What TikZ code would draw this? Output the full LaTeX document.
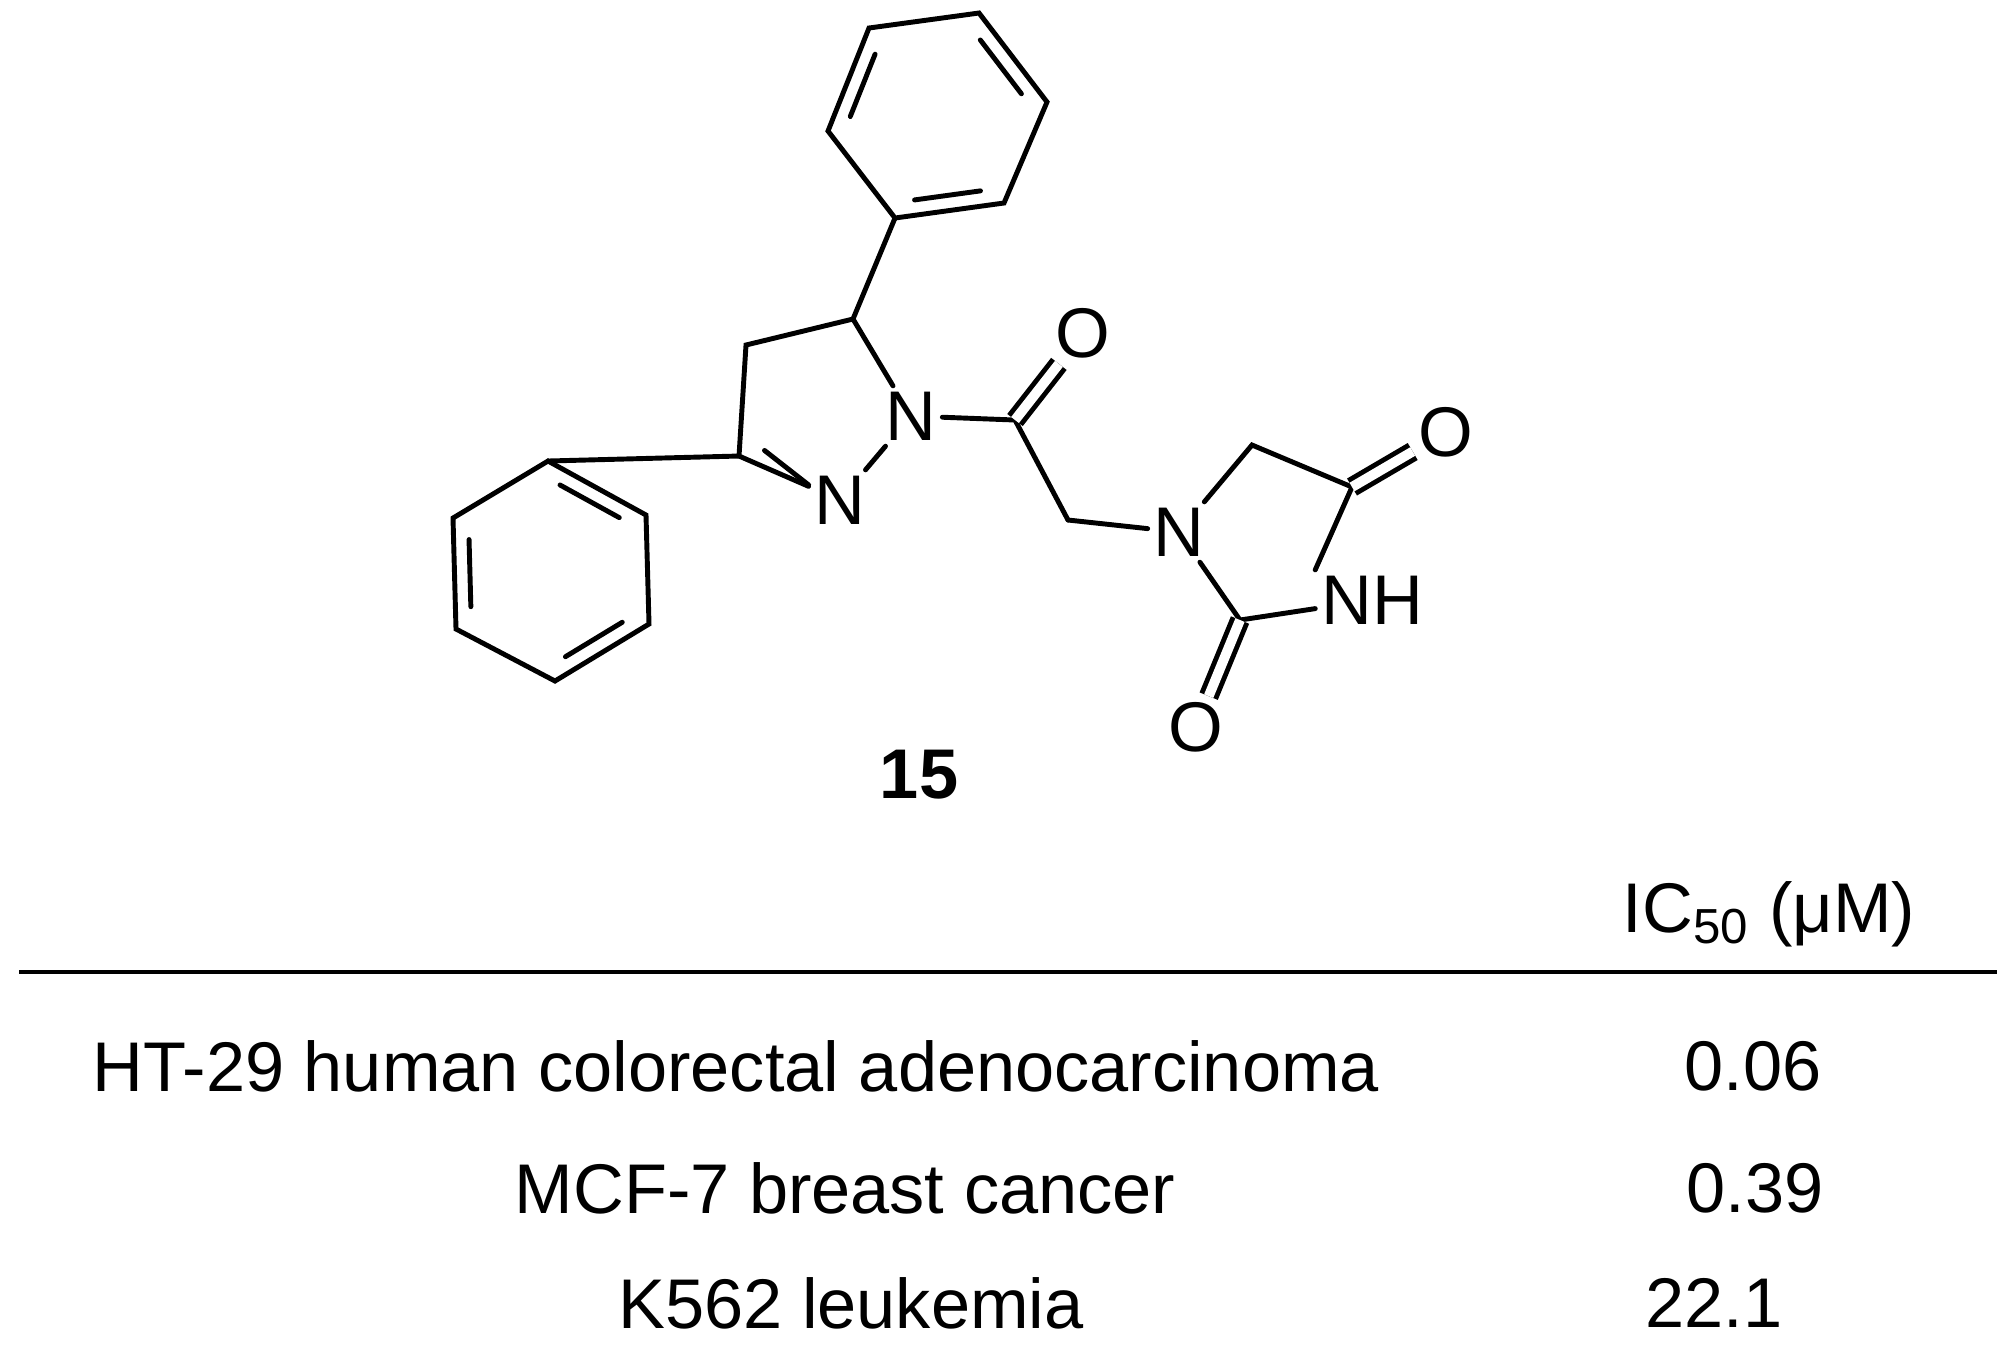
\documentclass[tikz,border=0pt]{standalone}
\usepackage{fontspec}
\setmainfont{Liberation Sans}
\usetikzlibrary{calc}

\tikzset{
  bond/.style={line width=1.4pt, line cap=round},
  dbl/.style={bond, double, double distance=2.8pt, line cap=butt},
  atom/.style={font=\fontsize{20}{24}\selectfont, inner sep=1.5pt},
  tabtext/.style={font=\fontsize{20}{24}\selectfont, inner sep=0pt},
}
% inner line of a double bond, pulled toward the ring centre #3
\newcommand{\innerbond}[3]{\draw[bond] ($(#1)!.14!(#2)!.16!(#3)$) -- ($(#2)!.14!(#1)!.16!(#3)$);}

\begin{document}
\begin{tikzpicture}[x=0.01cm, y=-0.01cm]
\useasboundingbox (0,0) rectangle (2013,1350);

% left phenyl
\coordinate (a1) at (548,461);
\coordinate (a2) at (646,515);
\coordinate (a3) at (649,624);
\coordinate (a4) at (555,681);
\coordinate (a5) at (456,629);
\coordinate (a6) at (453,518);
\coordinate (ca) at (551,571);
\draw[bond] (a1) -- (a2) -- (a3) -- (a4) -- (a5) -- (a6) -- cycle;
\innerbond{a1}{a2}{ca}
\innerbond{a3}{a4}{ca}
\innerbond{a5}{a6}{ca}

% pyrazoline
\coordinate (c3) at (739,456);
\coordinate (c4) at (746,345);
\coordinate (c5) at (853,319);
\coordinate (cp) at (818,407);
\node[atom] (n1) at (911,416) {N};
\node[atom] (n2) at (840,500) {N};
\draw[bond] (a1) -- (c3);
\draw[bond] (n2) -- (c3) -- (c4) -- (c5) -- (n1) -- (n2);
\draw[bond] ($(c3)!.12!(n2)!.2!(cp)$) -- ($(n2.west)!.5!(n2.north west)$);

% upper phenyl
\coordinate (b1) at (895,218);
\coordinate (b2) at (828,131);
\coordinate (b3) at (869,28);
\coordinate (b4) at (979,13);
\coordinate (b5) at (1047,102);
\coordinate (b6) at (1004,203);
\coordinate (cb) at (937,116);
\draw[bond] (c5) -- (b1);
\draw[bond] (b1) -- (b2) -- (b3) -- (b4) -- (b5) -- (b6) -- cycle;
\innerbond{b2}{b3}{cb}
\innerbond{b4}{b5}{cb}
\innerbond{b6}{b1}{cb}

% acyl linker
\coordinate (c1) at (1015,420);
\coordinate (m1) at (1068,520);
\node[atom] (o1) at (1083,333) {O};
\draw[bond] (n1) -- (c1) -- (m1);
\draw[dbl] (c1) -- (o1);

% hydantoin
\node[atom] (n3) at (1179,532) {N};
\node[atom] (n4) at (1372,600) {NH};
\node[atom] (o4) at (1446,432) {O};
\node[atom] (o2) at (1196,727) {O};
\coordinate (r5) at (1252,445);
\coordinate (c4h) at (1352,487);
\coordinate (c2) at (1240,620);
\draw[bond] (m1) -- (n3);
\draw[bond] (n3) -- (r5) -- (c4h) -- (n4.north west);
\draw[bond] (n4) -- (c2) -- (n3);
\draw[dbl] (c4h) -- (o4);
\draw[dbl] (c2) -- (o2);

\node[font=\fontsize{20}{24}\selectfont\bfseries] (lbl) at (919,775) {15};

% table
\node[tabtext] (head) at (1769,914) {IC\textsubscript{50} (μM)};
\coordinate (rl) at (19,972);
\coordinate (rr) at (1997,972);
\draw[line width=1.1pt] (rl) -- (rr);
\node[tabtext] (ht) at (736,1066) {HT-29 human colorectal adenocarcinoma};
\node[tabtext] (htv) at (1753,1066) {0.06};
\node[tabtext] (mcf) at (845,1188) {MCF-7 breast cancer};
\node[tabtext] (mcfv) at (1755,1188) {0.39};
\node[tabtext] (k) at (851,1303) {K562 leukemia};
\node[tabtext] (kv) at (1714,1303) {22.1};
\end{tikzpicture}
\end{document}
